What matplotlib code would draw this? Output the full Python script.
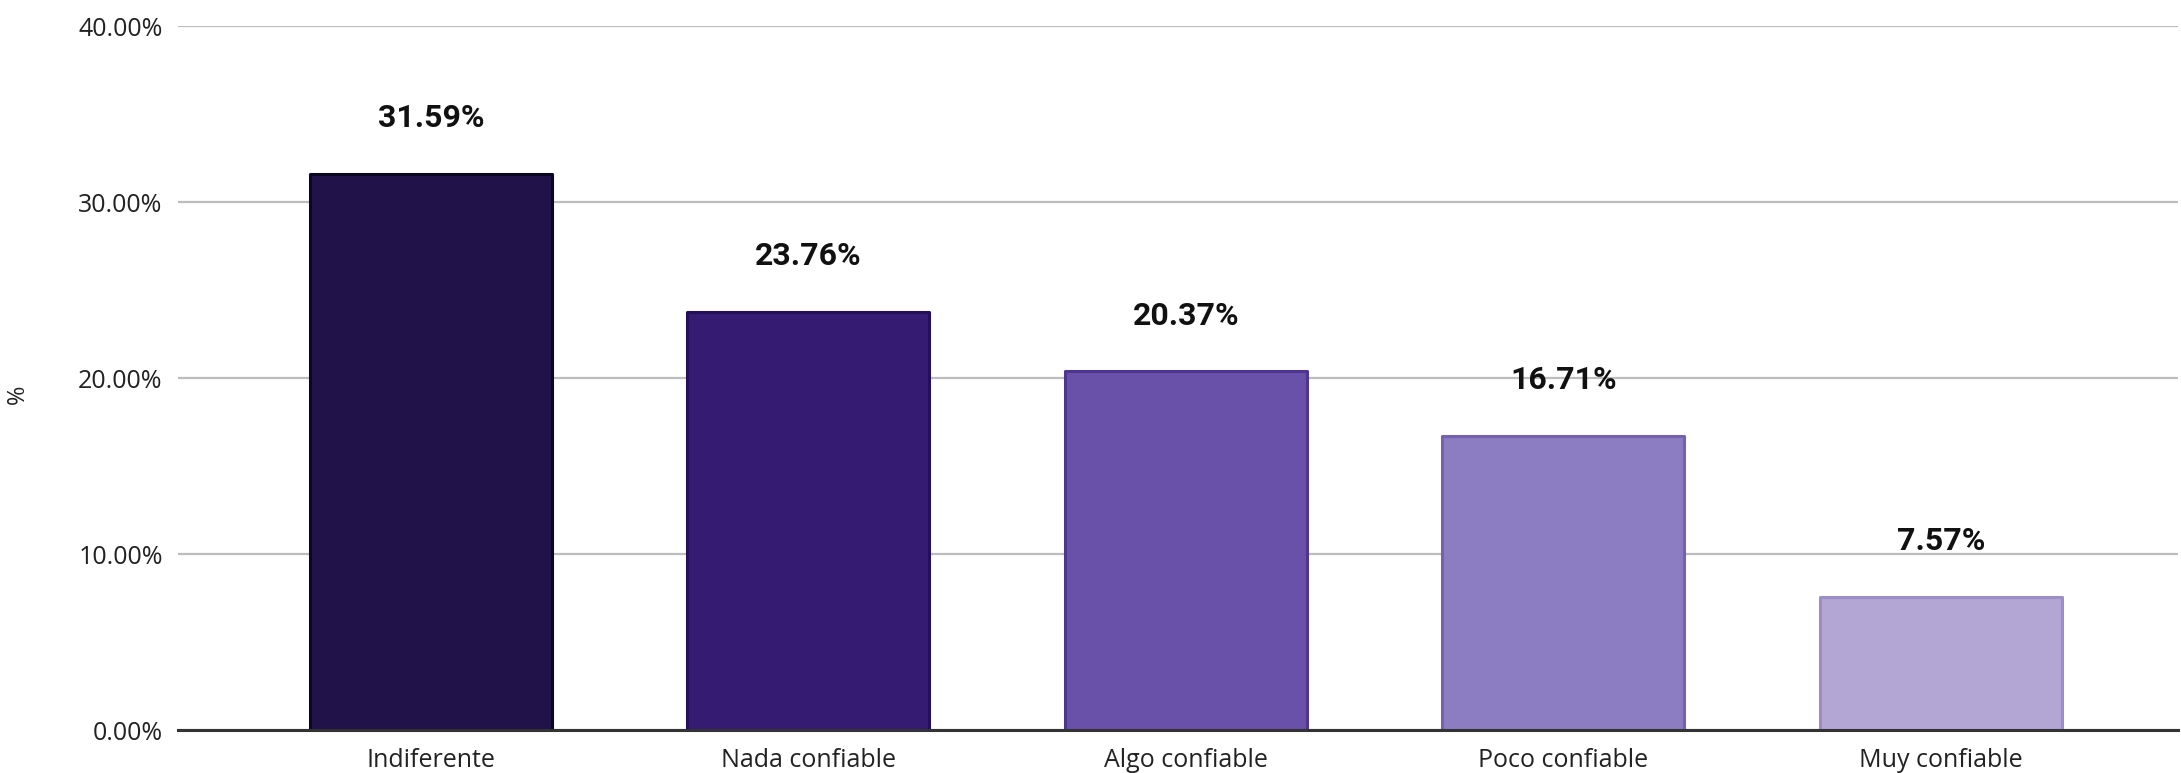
import matplotlib
matplotlib.use("Agg")
import matplotlib.pyplot as plt
from matplotlib.ticker import FixedLocator

categories = ["Indiferente", "Nada confiable", "Algo confiable", "Poco confiable", "Muy confiable"]
values = [31.59, 23.76, 20.37, 16.71, 7.57]
value_labels = ["31.59%", "23.76%", "20.37%", "16.71%", "7.57%"]
yticks = [0, 10, 20, 30, 40]
ytick_labels = ["0.00%", "10.00%", "20.00%", "30.00%", "40.00%"]
colors = ["#21134a", "#361b73", "#6950a8", "#8c7cc1", "#b3a6d4"]
edges = ["#0c0620", "#24105a", "#4e3690", "#7562ad", "#9c8ec4"]

tick_font = ["Open Sans", "DejaVu Sans"]

fig = plt.figure(figsize=(21.81, 7.73), dpi=100)
ax = fig.add_axes([178/2181, 43/773, 2000/2181, 704/773])

x = list(range(len(categories)))
bars = ax.bar(x, values, width=0.641, color=colors, edgecolor=edges, linewidth=2.2, zorder=3)
for b in bars:
    b.set_joinstyle("round")

for xi, v, lab in zip(x, values, value_labels):
    ax.annotate(lab, (xi, v), xytext=(0, 40), textcoords="offset points",
                ha="center", va="center", fontsize=23, fontweight="bold",
                family=["Roboto", "DejaVu Sans"], color="#111111", zorder=4)

ax.set_xlim(-0.670, 4.628)
ax.set_ylim(0, 40)
ax.yaxis.set_major_locator(FixedLocator(yticks))
ax.set_yticklabels(ytick_labels, family=tick_font, fontsize=18, color="#222222")
ax.set_xticks(x)
ax.set_xticklabels(categories, family=tick_font, fontsize=18, color="#222222")
ax.tick_params(axis="both", length=0)
ax.tick_params(axis="y", pad=11)
ax.tick_params(axis="x", pad=13)

ax.grid(axis="y", color="#bdbdbd", linewidth=1.6, zorder=0)
for s in ["top", "right", "left"]:
    ax.spines[s].set_visible(False)
ax.spines["bottom"].set_color("#333333")
ax.spines["bottom"].set_linewidth(2.2)
ax.spines["bottom"].set_zorder(5)

fig.text(18/2181, 1 - 394/773, "%", rotation=90, ha="center", va="center",
         family=tick_font, fontsize=17, color="#222222")

fig.savefig("out.png", dpi=100)
